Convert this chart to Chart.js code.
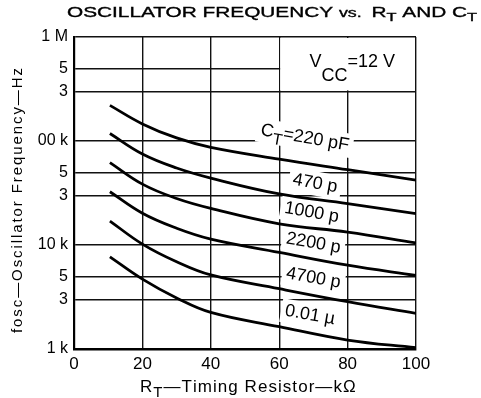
<!DOCTYPE html>
<html>
<head>
<meta charset="utf-8">
<script src="https://cdn.jsdelivr.net/npm/chart.js@4"></script>
<style>
  html, body { margin: 0; padding: 0; background: #fff; }
  #wrap { width: 481px; height: 398px; }
</style>
</head>
<body>
<div id="wrap"><canvas id="chart"></canvas></div>
<script>
// timing resistor RT (kOhm)
const rtValues = [10.5, 20, 30, 40, 60, 80, 100];

// oscillator frequency (Hz) for each timing capacitor CT
const freq220p  = [220000, 146000, 107000, 87000, 67000, 53000, 42000];
const freq470p  = [118000, 75000, 55000, 44000, 31000, 25000, 20000];
const freq1000p = [62000, 38500, 28000, 22500, 16000, 13300, 10500];
const freq2200p = [32500, 20200, 14500, 11400, 8500, 6400, 5100];
const freq4700p = [17000, 10200, 6900, 5150, 3800, 2850, 2200];
const freq001u  = [7700, 4700, 3100, 2250, 1640, 1220, 1030];

const curveNames = ['220 pF', '470 p', '1000 p', '2200 p', '4700 p', '0.01 µ'];

const xTickValues = [0, 20, 40, 60, 80, 100];
const yTickValues = [1000, 3000, 5000, 10000, 30000, 50000, 100000, 300000, 500000, 1000000];
const yTickLabels = ['1 k', '3', '5', '10 k', '3', '5', '00 k', '3', '5', '1 M'];

const FONT = '"Liberation Sans", Arial, sans-serif';

const series = [freq220p, freq470p, freq1000p, freq2200p, freq4700p, freq001u];
const datasets = series.map((vals, i) => ({
  label: curveNames[i],
  data: rtValues.map((x, j) => ({ x: x, y: vals[j] })),
  borderColor: '#000',
  borderWidth: 2.8,
  pointRadius: 0,
  tension: 0.4,
  fill: false
}));

// text made of pieces: [text, size, weight, dy]
function setFont(ctx, p) {
  ctx.font = (p[2] || 'normal') + ' ' + p[1] + 'px ' + FONT;
}
function pieceWidth(ctx, parts) {
  let w = 0;
  parts.forEach(p => { setFont(ctx, p); w += ctx.measureText(p[0]).width; });
  return w;
}
function drawPieces(ctx, parts, x, y, stroke) {
  let cx = x;
  parts.forEach(p => {
    setFont(ctx, p);
    ctx.fillText(p[0], cx, y + (p[3] || 0));
    if (stroke) ctx.strokeText(p[0], cx, y + (p[3] || 0));
    cx += ctx.measureText(p[0]).width;
  });
  return cx;
}
// draw pieces stretched horizontally to a target width
function drawScaled(ctx, parts, x, y, width, stroke) {
  const w = pieceWidth(ctx, parts);
  ctx.save();
  ctx.translate(x, y);
  ctx.scale(width / w, 1);
  drawPieces(ctx, parts, 0, 0, stroke);
  ctx.restore();
}
// draw pieces spread out (letter spacing) to fill a target width
function drawSpread(ctx, parts, x, y, width) {
  const w = pieceWidth(ctx, parts);
  const n = parts.reduce((a, p) => a + p[0].length, 0);
  const sp = (width - w) / (n - 1);
  let cx = x;
  parts.forEach(p => {
    setFont(ctx, p);
    for (const ch of p[0]) {
      ctx.fillText(ch, cx, y + (p[3] || 0));
      cx += ctx.measureText(ch).width + sp;
    }
  });
}

const curveTags = [
  { x: 67.5, y: 107000, parts: [['C', 18], ['T', 16, 'normal', 7], ['=220 pF', 18]] },
  { x: 70.5, y: 39000, parts: [['470 p', 18]] },
  { x: 69.5, y: 20500, parts: [['1000 p', 18]] },
  { x: 70, y: 10400, parts: [['2200 p', 18]] },
  { x: 70, y: 4800, parts: [['4700 p', 18]] },
  { x: 69, y: 2120, parts: [['0.01 µ', 18]] }
];

const annotations = {
  id: 'annotations',
  beforeDatasetsDraw(chart) {
    const ctx = chart.ctx;
    const xs = chart.scales.x, ys = chart.scales.y;
    ctx.save();
    ctx.fillStyle = '#fff';
    // Vcc box: blank the grid inside it
    const bx0 = xs.getPixelForValue(60) + 1, bx1 = xs.getPixelForValue(100) - 1;
    const by0 = ys.getPixelForValue(1000000) + 1, by1 = ys.getPixelForValue(300000) - 1;
    ctx.fillRect(bx0, by0, bx1 - bx0, by1 - by0);
    // white backing behind curve names
    curveTags.forEach(t => {
      const w = pieceWidth(ctx, t.parts);
      ctx.save();
      ctx.translate(xs.getPixelForValue(t.x), ys.getPixelForValue(t.y));
      ctx.rotate(10 * Math.PI / 180);
      ctx.fillRect(-w / 2 - 4, -12, w + 8, 24);
      ctx.restore();
    });
    ctx.restore();
  },
  afterDatasetsDraw(chart) {
    const ctx = chart.ctx;
    const xs = chart.scales.x, ys = chart.scales.y;
    ctx.save();
    ctx.fillStyle = '#000';
    ctx.textBaseline = 'middle';
    curveTags.forEach(t => {
      const w = pieceWidth(ctx, t.parts);
      ctx.save();
      ctx.translate(xs.getPixelForValue(t.x), ys.getPixelForValue(t.y));
      ctx.rotate(10 * Math.PI / 180);
      drawPieces(ctx, t.parts, -w / 2, 0);
      ctx.restore();
    });
    ctx.textBaseline = 'alphabetic';
    // Vcc note, right edge near x = 395
    const vcc = [['V', 18], ['CC', 18, 'normal', 14], ['=12 V', 18]];
    drawPieces(ctx, vcc, 395 - pieceWidth(ctx, vcc), 67);
    ctx.restore();
  },
  afterDraw(chart) {
    const ctx = chart.ctx;
    ctx.save();
    ctx.fillStyle = '#000';
    ctx.strokeStyle = '#000';
    ctx.lineWidth = 0.35;
    ctx.textBaseline = 'alphabetic';
    // chart title
    drawScaled(ctx, [
      ['OSCILLATOR FREQUENCY ', 14],
      ['vs.  ', 12],
      ['R', 14], ['T', 11, 'normal', 4],
      [' AND C', 14], ['T', 11, 'normal', 4]
    ], 67, 17, 410, true);
    // x axis title
    drawSpread(ctx, [['R', 17], ['T', 15, 'normal', 5], ['—Timing Resistor—kΩ', 17]], 140, 392, 215);
    // y axis title
    ctx.save();
    ctx.translate(22, 333);
    ctx.rotate(-Math.PI / 2);
    drawSpread(ctx, [['fosc—Oscillator Frequency—Hz', 15]], 0, 0, 265);
    ctx.restore();
    ctx.restore();
  }
};

const config = {
  type: 'line',
  data: { datasets: datasets },
  options: {
    responsive: true,
    maintainAspectRatio: false,
    animation: false,
    layout: { padding: { left: 0, right: 65, top: 37, bottom: 0 } },
    plugins: {
      legend: { display: false },
      tooltip: { enabled: false },
      title: { display: false }
    },
    scales: {
      x: {
        type: 'linear',
        min: 0,
        max: 100,
        afterBuildTicks: s => { s.ticks = xTickValues.map(v => ({ value: v })); },
        afterFit: s => { s.height = 49; },
        grid: { color: '#111', lineWidth: 1.4, drawTicks: false },
        border: { color: '#000', width: 2.5 },
        ticks: { color: '#000', padding: 5, maxRotation: 0, font: { size: 17, family: FONT } }
      },
      y: {
        type: 'logarithmic',
        min: 1000,
        max: 1000000,
        afterBuildTicks: s => { s.ticks = yTickValues.map(v => ({ value: v })); },
        afterFit: s => { s.width = 74; },
        grid: { color: '#111', lineWidth: 1.4, drawTicks: false },
        border: { color: '#000', width: 2.2 },
        ticks: {
          color: '#000',
          padding: 6,
          font: { size: 16, family: FONT },
          callback: v => yTickLabels[yTickValues.indexOf(v)]
        }
      }
    }
  },
  plugins: [annotations]
};

const myChartOsc = new Chart(document.getElementById('chart'), config);
</script>
</body>
</html>
